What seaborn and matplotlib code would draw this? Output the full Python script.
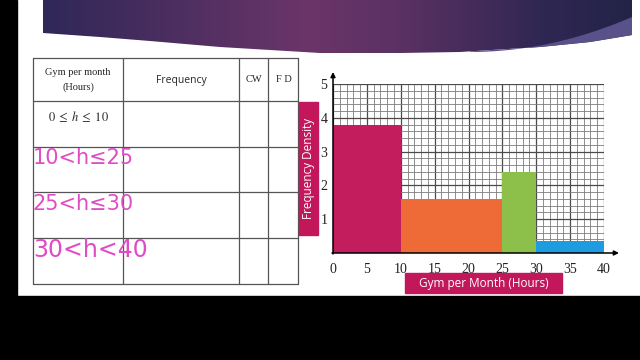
import numpy as np
import pandas as pd
import matplotlib
matplotlib.use('Agg')
import matplotlib.pyplot as plt
from matplotlib.patches import Rectangle, Polygon
from matplotlib.colors import LinearSegmentedColormap
import seaborn as sns

# histogram data (class edges and frequency density)
edges = [0, 10, 25, 30, 40]
fd = [3.8, 1.6, 2.4, 0.35]
x_ticks = [0, 5, 10, 15, 20, 25, 30, 35, 40]
y_ticks = [1, 2, 3, 4, 5]

# table text
header = ['Gym per month\n(Hours)', 'Frequency', 'CW', 'F D']
row_labels = ['10<h≤25', '25<h≤30', '30<h<40']

bar_colors = ['#c31d5d', '#ee6a36', '#8cc04b', '#1f9be0']
magenta = '#c2185b'

sns.set_style('white')
plt.rcParams['font.family'] = ['DejaVu Sans']
plt.rcParams['mathtext.fontset'] = 'stix'

fig = plt.figure(figsize=(6.4, 3.6), dpi=100)
fig.patch.set_facecolor('white')

# background layer in pixel coords
bg = fig.add_axes([0, 0, 1, 1], zorder=0)
bg.set_xlim(0, 640)
bg.set_ylim(360, 0)
bg.axis('off')

bg.add_patch(Rectangle((0, 0), 17, 360, color='black'))
bg.add_patch(Rectangle((0, 296), 640, 64, color='black'))

# purple banner with gradient
bx = np.array([43, 100, 150, 220, 320, 400, 460, 540, 590, 632])
by = np.array([33, 37, 41, 47, 53, 53, 52, 47, 42, 35])
poly = Polygon(np.column_stack([np.r_[43, bx, 632], np.r_[-2, by, -2]]),
               closed=True, facecolor='none', edgecolor='none')
bg.add_patch(poly)
cmap = LinearSegmentedColormap.from_list(
    'ban', [(0, '#2f2858'), (0.45, '#6b3569'), (0.6, '#5c3163'),
            (0.85, '#2f2753'), (1, '#232347')])
grad = np.linspace(0, 1, 256)[None, :]
im = bg.imshow(grad, cmap=cmap, extent=(43, 632, 60, -2), aspect='auto', zorder=1)
im.set_clip_path(poly)
# lighter band on the right
lx = np.linspace(470, 632, 30)
upper = 52 - (lx - 470) ** 2 / (162 ** 2) * 35
lower = np.interp(lx, bx, by)
band = Polygon(np.column_stack([np.r_[lx, lx[::-1]], np.r_[upper, lower[::-1]]]),
               closed=True, facecolor='#59518a', edgecolor='none', zorder=2)
bg.add_patch(band)

# table
cols = [33, 123, 239, 268, 298]
rows = [58, 101, 147, 192, 238, 284]
for c in cols:
    bg.plot([c, c], [rows[0], rows[-1]], color='#555555', lw=0.9)
for r in rows:
    bg.plot([cols[0], cols[-1]], [r, r], color='#555555', lw=0.9)
bg.text(78, 80, header[0], ha='center', va='center', fontsize=7.5,
        family='Liberation Serif', linespacing=1.6)
bg.text(181, 80, header[1], ha='center', va='center', fontsize=7.5, family='Open Sans')
bg.text(254, 80, header[2], ha='center', va='center', fontsize=7.5, family='Liberation Serif')
bg.text(284, 80, header[3], ha='center', va='center', fontsize=7.5, family='Liberation Serif')
bg.text(78, 117, r'$0\;\leq\;h\;\leq\;10$', ha='center', va='center', fontsize=9)
for lab, yy, fs in zip(row_labels, [158, 204, 250], [15, 15, 17]):
    bg.text(33, yy, lab, ha='left', va='center', fontsize=fs, color='#e04cc4',
            family='DejaVu Sans', fontweight='normal')

# histogram
ax = fig.add_axes([333 / 640, 107 / 360, 271 / 640, 169 / 360], zorder=1)
ax.set_facecolor('none')
mids = [(edges[i] + edges[i + 1]) / 2 for i in range(len(fd))]
df = pd.DataFrame({'mid': mids, 'fd': fd})
sns.histplot(data=df, x='mid', weights='fd', bins=edges, ax=ax,
             alpha=1, linewidth=0, element='bars')
for p, c in zip(ax.patches, bar_colors):
    p.set_facecolor(c)
    p.set_edgecolor('none')
    p.set_zorder(3)

ax.set_xlim(0, 40)
ax.set_ylim(0, 5)
ax.set_xticks(x_ticks)
ax.set_yticks(y_ticks)
ax.set_xticks(np.arange(0, 41, 1), minor=True)
ax.set_yticks(np.arange(0, 5.01, 0.2), minor=True)
ax.grid(which='minor', color='#7c7c7c', lw=0.6)
ax.grid(which='major', color='#4a4a4a', lw=0.9)
ax.set_axisbelow(True)
for s in ['top', 'right', 'left', 'bottom']:
    ax.spines[s].set_visible(False)
ax.set_xlabel('')
ax.set_ylabel('')
ax.tick_params(axis='x', which='major', length=3, width=0.8, pad=4, color='#333333')
ax.tick_params(axis='x', which='minor', length=0)
ax.tick_params(axis='y', which='both', length=0, pad=4)
for t in ax.get_xticklabels() + ax.get_yticklabels():
    t.set_family('Liberation Serif')
    t.set_fontsize(10)
    t.set_color('#222222')

# overlay: axes arrows and label boxes
ov = fig.add_axes([0, 0, 1, 1], zorder=3)
ov.set_xlim(0, 640)
ov.set_ylim(360, 0)
ov.axis('off')
ov.annotate('', xy=(333, 72), xytext=(333, 254),
            arrowprops=dict(arrowstyle='-|>', color='black', lw=1.1,
                            mutation_scale=7, shrinkA=0, shrinkB=0))
ov.annotate('', xy=(619, 253), xytext=(332, 253),
            arrowprops=dict(arrowstyle='-|>', color='black', lw=1.1,
                            mutation_scale=7, shrinkA=0, shrinkB=0))
ov.add_patch(Rectangle((299, 102), 19, 133, color=magenta))
ov.text(308.5, 168.5, 'Frequency Density', rotation=90, ha='center', va='center',
        color='white', fontsize=8.5, family='Open Sans')
ov.add_patch(Rectangle((405, 273), 157, 20, color=magenta))
ov.text(483.5, 283, 'Gym per Month (Hours)', ha='center', va='center',
        color='white', fontsize=8.5, family='Open Sans')

fig.savefig('out.png', dpi=100)
